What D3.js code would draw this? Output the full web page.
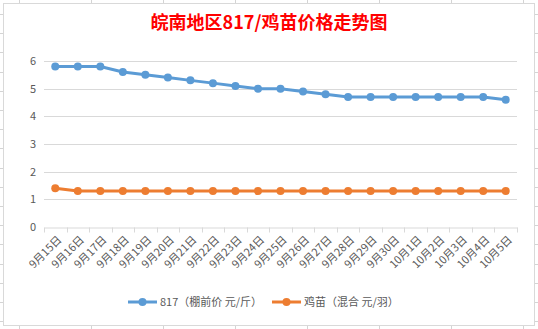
<!DOCTYPE html>
<html><head><meta charset="utf-8">
<script src="https://cdn.jsdelivr.net/npm/d3@7"></script>
<style>html,body{margin:0;padding:0;background:#fff;}svg{display:block;}</style>
</head><body>
<script>
const categories = ["9月15日","9月16日","9月17日","9月18日","9月19日","9月20日","9月21日","9月22日","9月23日","9月24日","9月25日","9月26日","9月27日","9月28日","9月29日","9月30日","10月1日","10月2日","10月3日","10月4日","10月5日"];
const price817 = [5.8,5.8,5.8,5.6,5.5,5.4,5.3,5.2,5.1,5.0,5.0,4.9,4.8,4.7,4.7,4.7,4.7,4.7,4.7,4.7,4.6];
const chickPrice = [1.4,1.3,1.3,1.3,1.3,1.3,1.3,1.3,1.3,1.3,1.3,1.3,1.3,1.3,1.3,1.3,1.3,1.3,1.3,1.3,1.3];
const yTicks = [0,1,2,3,4,5,6];
const seriesNames = ["817（棚前价 元/斤）","鸡苗（混合 元/羽）"];
const title = "皖南地区817/鸡苗价格走势图";

const W = 538, H = 329;
const font = "'Noto Sans CJK SC', 'Open Sans', sans-serif";
const svg = d3.select("body").append("svg").attr("width", W).attr("height", H);

// spreadsheet background grid
const sheet = svg.append("g").attr("stroke", "#d4d4d4").attr("stroke-width", 1);
for (let x = 19; x < W; x += 72) sheet.append("line").attr("x1", x + 0.5).attr("x2", x + 0.5).attr("y1", 0).attr("y2", H);
for (let y = 14; y < H; y += 19.2) sheet.append("line").attr("x1", 0).attr("x2", W).attr("y1", Math.round(y) + 0.5).attr("y2", Math.round(y) + 0.5);

// chart area
svg.append("rect").attr("x", 3.5).attr("y", 3.5).attr("width", 531).attr("height", 322)
  .attr("fill", "#fff").attr("stroke", "#d9d9d9");

svg.append("text").attr("x", 269).attr("y", 29).attr("text-anchor", "middle")
  .attr("font-family", font).attr("font-size", 18).attr("font-weight", "bold")
  .attr("fill", "#ff0000").text(title);

const x = d3.scaleBand().domain(categories).range([44, 517]);
const y = d3.scaleLinear().domain([0, 6]).range([227, 61]);

// grid
svg.append("g").selectAll("line").data(yTicks.filter(d => d > 0)).join("line")
  .attr("x1", 44).attr("x2", 517)
  .attr("y1", d => Math.round(y(d)) + 0.5).attr("y2", d => Math.round(y(d)) + 0.5)
  .attr("stroke", "#d9d9d9");

// y axis labels
const yAxis = svg.append("g").attr("transform", "translate(44,0)")
  .call(d3.axisLeft(y).tickValues(yTicks).tickFormat(d3.format("d")).tickSize(0).tickPadding(8));
yAxis.select(".domain").remove();
yAxis.selectAll("text").attr("font-family", font).attr("font-size", 11).attr("fill", "#595959");

// x axis
const xAxis = svg.append("g").attr("transform", "translate(0," + (Math.round(y(0)) + 0.5) + ")")
  .call(d3.axisBottom(x).tickSize(0));
xAxis.select(".domain").attr("stroke", "#d9d9d9");
xAxis.selectAll(".tick line").remove();
const bounds = categories.map((c, i) => x(c)).concat([x.range()[1]]);
xAxis.selectAll("line.bt").data(bounds).join("line").attr("class", "bt")
  .attr("x1", d => Math.round(d) + 0.5).attr("x2", d => Math.round(d) + 0.5)
  .attr("y1", 0).attr("y2", 5).attr("stroke", "#d9d9d9");
xAxis.selectAll(".tick text")
  .attr("font-family", font).attr("font-size", 11).attr("fill", "#595959")
  .attr("text-anchor", "end").attr("dy", 0).attr("y", 0)
  .attr("transform", "translate(7,13) rotate(-45)");

const cx = d => x(d) + x.bandwidth() / 2;
const line = d3.line().x((d, i) => cx(categories[i])).y(d => y(d));
const seriesList = [
  {vals: price817, color: "#5b9bd5"},
  {vals: chickPrice, color: "#ed7d31"}
];
seriesList.forEach(s => {
  svg.append("path").datum(s.vals).attr("d", line).attr("fill", "none")
    .attr("stroke", s.color).attr("stroke-width", 3).attr("stroke-linejoin", "round");
  svg.append("g").selectAll("circle").data(s.vals).join("circle")
    .attr("cx", (d, i) => cx(categories[i])).attr("cy", d => y(d)).attr("r", 4)
    .attr("fill", s.color);
});

// legend
const legendPos = [{x: 128, tx: 160}, {x: 272, tx: 304}];
seriesList.forEach((s, i) => {
  const g = svg.append("g");
  const ly = 302;
  g.append("line").attr("x1", legendPos[i].x).attr("x2", legendPos[i].x + 29)
    .attr("y1", ly).attr("y2", ly).attr("stroke", s.color).attr("stroke-width", 3);
  g.append("circle").attr("cx", legendPos[i].x + 14.5).attr("cy", ly).attr("r", 4).attr("fill", s.color);
  g.append("text").attr("x", legendPos[i].tx).attr("y", ly + 4)
    .attr("font-family", font).attr("font-size", 11).attr("fill", "#595959").text(seriesNames[i]);
});
</script>
</body></html>
